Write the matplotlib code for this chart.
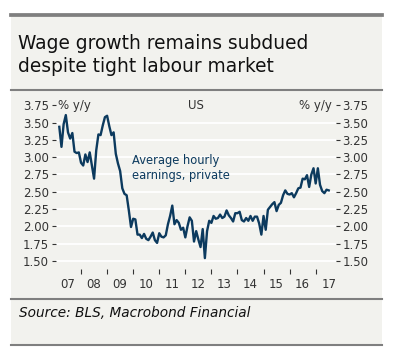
import matplotlib.pyplot as plt
import numpy as np
from matplotlib.lines import Line2D
from matplotlib.patches import Rectangle

# average hourly earnings, private, % y/y (monthly)
start_year, start_month = 2007, 3
ahe_2007 = [3.44, 3.15, 3.48, 3.61, 3.36, 3.27, 3.35, 3.08, 3.06, 3.07]
ahe_2008 = [2.92, 2.88, 3.04, 2.93, 3.07, 2.88, 2.69, 3.10, 3.33, 3.32, 3.46, 3.58]
ahe_2009 = [3.60, 3.45, 3.32, 3.36, 3.05, 2.91, 2.80, 2.55, 2.47, 2.45, 2.23, 1.99]
ahe_2010 = [2.11, 2.10, 1.88, 1.88, 1.83, 1.89, 1.82, 1.80, 1.85, 1.91, 1.80, 1.76]
ahe_2011 = [1.90, 1.85, 1.84, 1.87, 2.03, 2.15, 2.30, 2.03, 2.09, 2.05, 1.95, 1.98]
ahe_2012 = [1.84, 2.00, 2.13, 2.08, 1.78, 1.93, 1.81, 1.70, 1.96, 1.54, 1.93, 2.08]
ahe_2013 = [2.05, 2.15, 2.11, 2.12, 2.17, 2.12, 2.14, 2.23, 2.16, 2.12, 2.07, 2.19]
ahe_2014 = [2.19, 2.21, 2.09, 2.07, 2.12, 2.08, 2.15, 2.08, 2.14, 2.14, 2.04, 1.88]
ahe_2015 = [2.15, 1.95, 2.24, 2.28, 2.32, 2.35, 2.22, 2.31, 2.34, 2.45, 2.52, 2.47]
ahe_2016 = [2.46, 2.48, 2.42, 2.48, 2.55, 2.56, 2.69, 2.68, 2.74, 2.57, 2.75, 2.84]
ahe_2017 = [2.62, 2.84, 2.60, 2.51, 2.48, 2.53, 2.52]

y_ticks = [1.50, 1.75, 2.00, 2.25, 2.50, 2.75, 3.00, 3.25, 3.50, 3.75]
years = list(range(2007, 2018))
year_labels = ['07', '08', '09', '10', '11', '12', '13', '14', '15', '16', '17']

ahe = np.array(ahe_2007 + ahe_2008 + ahe_2009 + ahe_2010 + ahe_2011 + ahe_2012
               + ahe_2013 + ahe_2014 + ahe_2015 + ahe_2016 + ahe_2017)
t = start_year + (start_month - 1 + np.arange(len(ahe))) / 12.0

W, H = 394, 348
navy = '#0c3a5e'
frame = '#7f7f7f'
panel = '#f2f2ee'
txt = '#333333'

fig = plt.figure(figsize=(W / 100, H / 100), dpi=100)
fig.patch.set_facecolor('white')


def fx(x):
    return x / W


def fy(y):
    return 1 - y / H


# grey panel and frame rules
fig.patches.append(Rectangle((fx(11), fy(345)), fx(371), (345 - 15) / H,
                             transform=fig.transFigure, facecolor=panel,
                             edgecolor='none', zorder=-5))
for yy, lw in [(15, 2.7), (89.5, 1.5), (299, 1.5), (345, 1.5)]:
    fig.lines.append(Line2D([fx(11), fx(382)], [fy(yy), fy(yy)],
                            transform=fig.transFigure, color=frame, lw=lw))

fig.text(fx(18), fy(49), 'Wage growth remains subdued', fontsize=13.4,
         color='#111111', va='baseline')
fig.text(fx(18), fy(71.5), 'despite tight labour market', fontsize=13.4,
         color='#111111', va='baseline')
fig.text(fx(19), fy(317), 'Source: BLS, Macrobond Financial', fontsize=9.8,
         style='italic', color='#111111', va='baseline')

ax = fig.add_axes([fx(56), fy(274), (335.5 - 56) / W, (274 - 105.4) / H])
ax.set_facecolor('none')
ax.plot(t, ahe, color=navy, lw=1.7, solid_joinstyle='round', zorder=3)

ax.set_xlim(2007.04, 2017.76)
ax.set_ylim(1.31, 3.75)
for v in y_ticks[:-1]:
    ax.axhline(v, color='white', lw=1.3, zorder=1)

for s in ax.spines.values():
    s.set_visible(False)

ax.set_yticks(y_ticks)
ax.set_yticklabels(['%.2f' % v for v in y_ticks])
ax.tick_params(axis='y', which='both', left=True, right=True, labelleft=True,
               labelright=True, direction='out', length=3, width=0.8,
               color=txt, labelcolor=txt, labelsize=8.5, pad=2)

ax.set_xticks(years[1:])
ax.set_xticklabels([])
ax.set_xticks([y + 0.5 for y in years], minor=True)
ax.set_xticklabels(year_labels, minor=True)
ax.tick_params(axis='x', which='major', direction='in', length=3.5, width=0.8,
               color=txt)
ax.tick_params(axis='x', which='minor', length=0, labelcolor=txt,
               labelsize=8.5, pad=3)

ax.text(0.007, 1.0, '% y/y', transform=ax.transAxes, ha='left', va='center',
        fontsize=8.5, color=txt)
ax.text(0.986, 1.0, '% y/y', transform=ax.transAxes, ha='right', va='center',
        fontsize=8.5, color=txt)
ax.text(0.5, 1.0, 'US', transform=ax.transAxes, ha='center', va='center',
        fontsize=8.5, color=txt)
ax.text(0.272, 0.71, 'Average hourly\nearnings, private',
        transform=ax.transAxes, ha='left', va='top', fontsize=8.3,
        color=navy, linespacing=1.15)

fig.savefig('out.png', dpi=100)
